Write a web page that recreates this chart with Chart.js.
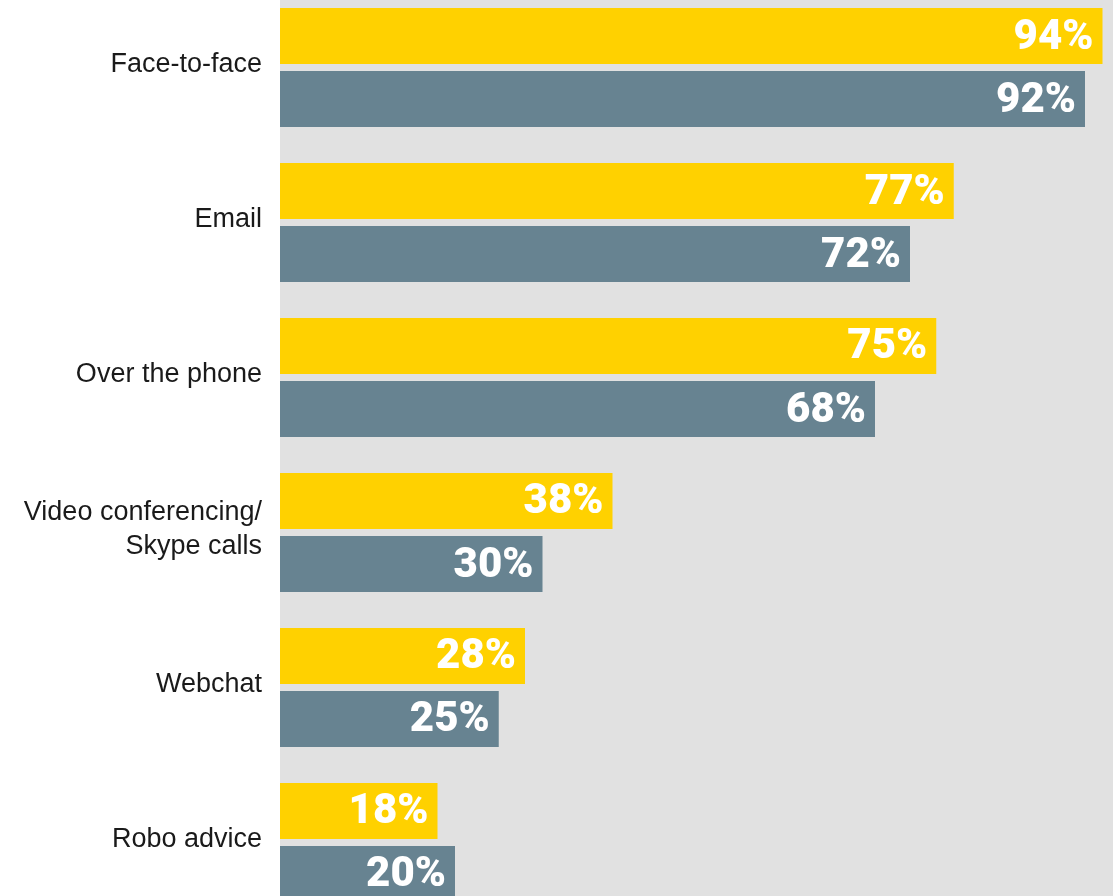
<!DOCTYPE html>
<html>
<head>
<meta charset="utf-8">
<script src="https://cdn.jsdelivr.net/npm/chart.js@4"></script>
<style>
  html, body { margin: 0; padding: 0; background: #fff; overflow: hidden; }
  #wrap { position: absolute; left: 0; top: -45px; width: 1113px; height: 1000px; }
</style>
</head>
<body>
<div id="wrap"><canvas id="chart"></canvas></div>
<script>
const categories = ['Face-to-face', 'Email', 'Over the phone', ['Video conferencing/', 'Skype calls'], 'Webchat', 'Robo advice'];
const yellowValues = [94, 77, 75, 38, 28, 18];
const greyValues = [92, 72, 68, 30, 25, 20];

// grey panel behind the bars
const panelBg = {
  id: 'panelBg',
  beforeDraw(chart) {
    const { ctx, chartArea: a } = chart;
    ctx.save();
    ctx.fillStyle = '#e1e1e1';
    ctx.fillRect(a.left, a.top, a.right - a.left, a.bottom - a.top);
    ctx.restore();
  }
};

// percentage labels at the end of each bar
const endLabels = {
  id: 'endLabels',
  afterDatasetsDraw(chart) {
    const ctx = chart.ctx;
    ctx.save();
    ctx.font = '900 42px Roboto, "Liberation Sans", Arial, sans-serif';
    ctx.fillStyle = '#ffffff';
    ctx.textAlign = 'right';
    ctx.textBaseline = 'middle';
    chart.data.datasets.forEach((ds, i) => {
      chart.getDatasetMeta(i).data.forEach((bar, j) => {
        ctx.fillText(ds.data[j] + '%', bar.x - 9, bar.y + 2);
      });
    });
    ctx.restore();
  }
};

new Chart(document.getElementById('chart'), {
  type: 'bar',
  data: {
    labels: categories,
    datasets: [
      { data: yellowValues, backgroundColor: '#ffd100' },
      { data: greyValues, backgroundColor: '#678391' }
    ]
  },
  options: {
    indexAxis: 'y',
    responsive: true,
    maintainAspectRatio: false,
    animation: false,
    layout: { padding: 0 },
    datasets: {
      bar: { categoryPercentage: 0.813, barPercentage: 0.889 }
    },
    scales: {
      x: { display: false, min: 0, max: 95.2 },
      y: {
        grid: { display: false, drawTicks: false },
        border: { display: false },
        afterFit(axis) { axis.width = 280; },
        ticks: {
          padding: 18,
          labelOffset: -3,
          color: '#1a1a1a',
          font: { family: '"Liberation Sans", Arial, sans-serif', size: 27, lineHeight: 1.26 }
        }
      }
    },
    plugins: {
      legend: { display: false },
      tooltip: { enabled: false }
    }
  },
  plugins: [panelBg, endLabels]
});
</script>
</body>
</html>
